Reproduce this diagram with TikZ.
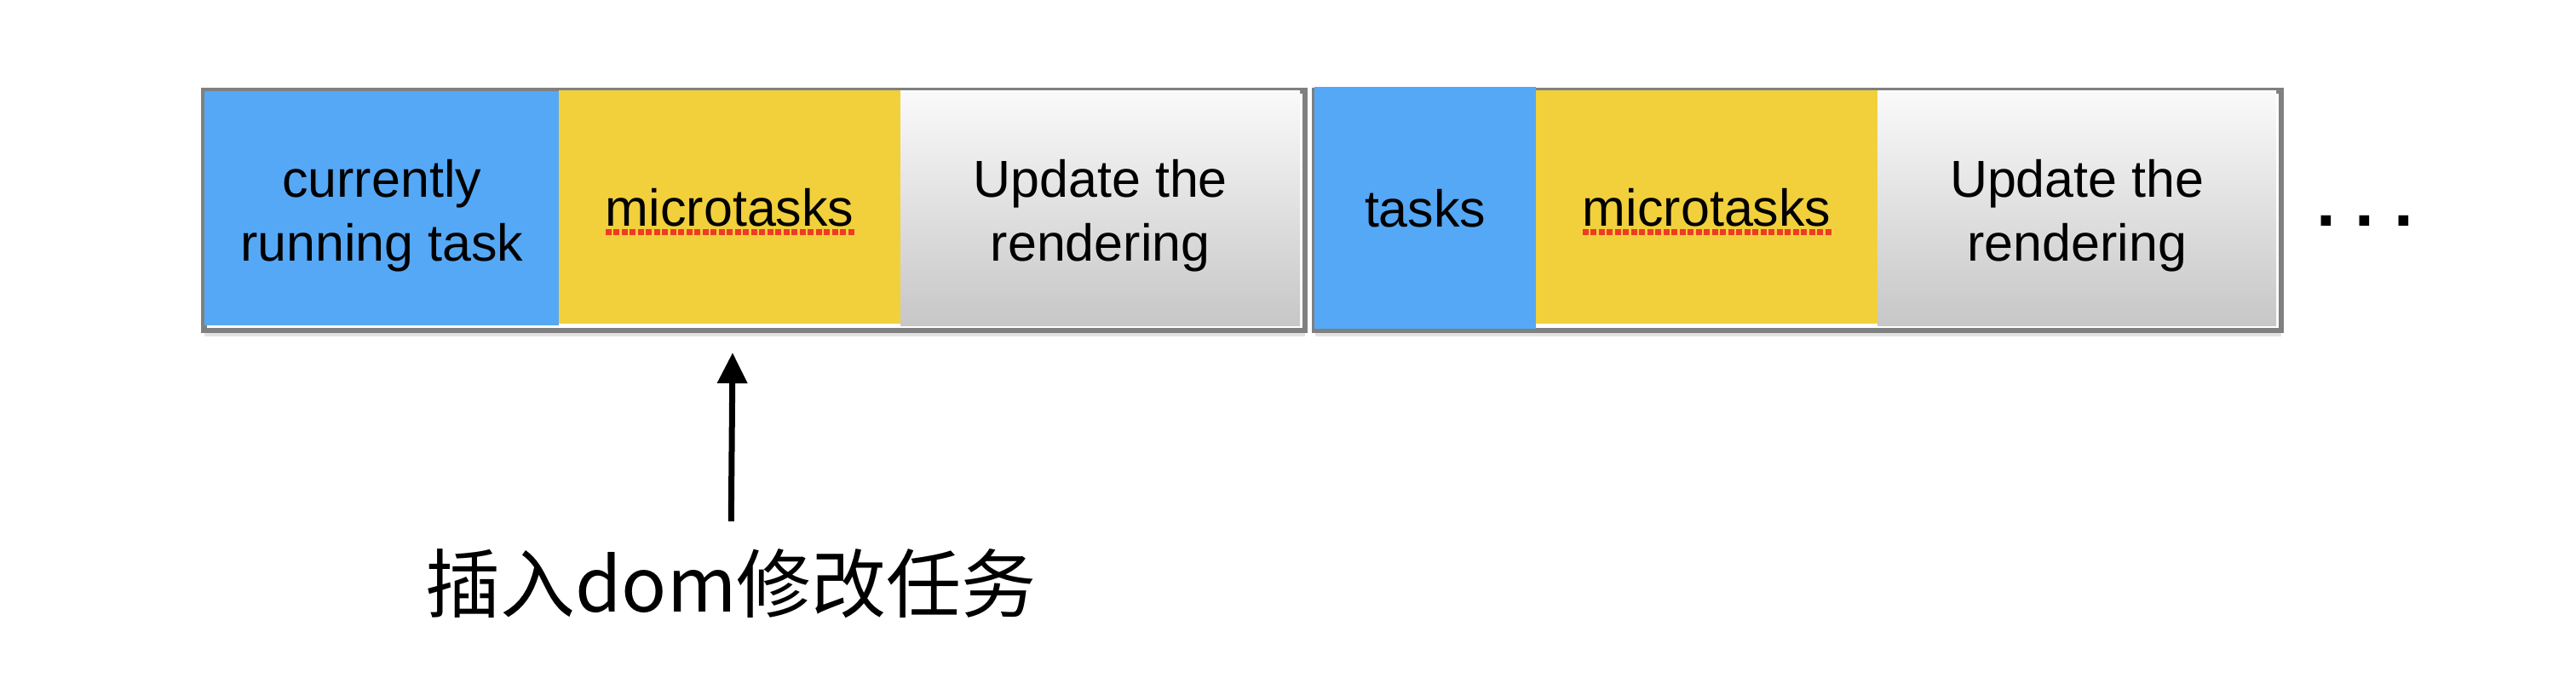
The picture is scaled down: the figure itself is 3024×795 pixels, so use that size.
\documentclass[tikz,border=0pt]{standalone}
\usepackage{fontspec}
\setmainfont{Liberation Sans}
\newfontfamily\cjk{Noto Sans CJK SC}
\usetikzlibrary{shadows,arrows.meta}
\definecolor{taskblue}{HTML}{55A8F5}
\definecolor{mtyellow}{HTML}{F2D03C}
\definecolor{framegray}{HTML}{808080}
\definecolor{squiggle}{HTML}{EE3B22}
\begin{document}
\begin{tikzpicture}[x=1pt,y=-1pt,
  strip/.style={draw=framegray, line width=6.5pt, fill=white, anchor=north west, inner sep=0pt,
    drop shadow={shadow xshift=0pt, shadow yshift=-7pt, opacity=0.22}},
  cell/.style={draw=none, anchor=north west, inner sep=0pt},
  bluecell/.style={cell, fill=taskblue},
  yellowcell/.style={cell, fill=mtyellow},
  graycell/.style={cell, top color=gray!4, bottom color=gray!44},
  lbl/.style={inner sep=0pt, align=center, font=\fontsize{61}{75}\selectfont},
  twoline/.style={lbl, yshift=-9pt},
  spell/.style={draw=squiggle, line width=7pt, dash pattern=on 7pt off 2.5pt},
  pointer/.style={line width=7pt, -{Triangle[length=36pt,width=34pt]}}
]
\useasboundingbox (0,0) rectangle (3024,795);

% strip 1
\node[strip, minimum width=1292.5pt, minimum height=281.5pt] (s1) at (236.25,103.25) {};
\node[bluecell, minimum width=416pt, minimum height=275pt] (b1) at (240,107) {};
\node[yellowcell, minimum width=401pt, minimum height=274pt] (y1) at (656,106) {};
\node[graycell, minimum width=469pt, minimum height=276pt] (g1) at (1057,106) {};
\node[twoline] (tb1) at (b1.center) {currently\\running task};
\node[lbl] (ty1) at (y1.center) {microtasks};
\node[twoline] (tg1) at (g1.center) {Update the\\rendering};
\draw[spell] ([yshift=-7pt]ty1.base west) -- ([yshift=-7pt]ty1.base east);

% strip 2
\node[strip, minimum width=1134.5pt, minimum height=281.5pt] (s2) at (1540.25,103.25) {};
\node[bluecell, minimum width=260pt, minimum height=284pt] (b2) at (1543,102) {};
\node[yellowcell, minimum width=401pt, minimum height=274pt] (y2) at (1803,106) {};
\node[graycell, minimum width=468pt, minimum height=276pt] (g2) at (2204,106) {};
\node[lbl] (tb2) at (b2.center) {tasks};
\node[lbl] (ty2) at (y2.center) {microtasks};
\node[twoline] (tg2) at (g2.center) {Update the\\rendering};
\draw[spell] ([yshift=-7pt]ty2.base west) -- ([yshift=-7pt]ty2.base east);

% ellipsis
\node[inner sep=0pt, anchor=base, font=\bfseries\frenchspacing\fontsize{82}{84}\selectfont] (dots) at (2776,265) {. . .};

% insertion label and arrow
\node[inner sep=0pt, font=\cjk\fontsize{88}{90}\selectfont] (ins) at (858,685) {插入dom修改任务};
\coordinate (tip) at (860,414);
\draw[pointer, shorten <=32pt] (ins.north) -- (tip);
\end{tikzpicture}
\end{document}
